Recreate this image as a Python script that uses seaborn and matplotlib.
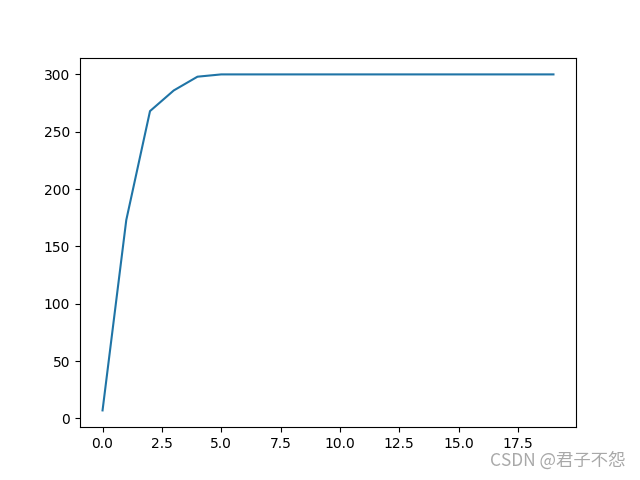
import numpy as np
import pandas as pd
import matplotlib
matplotlib.use("Agg")
import matplotlib.pyplot as plt
import seaborn as sns

# values
steps = list(range(20))
values = [7, 173, 268, 286, 298] + [300] * 15

df = pd.DataFrame({"step": steps, "value": values})

fig, ax = plt.subplots(figsize=(6.4, 4.8), dpi=100)
sns.lineplot(data=df, x="step", y="value", ax=ax, color="#1f74a6")
ax.set_xlabel("")
ax.set_ylabel("")

# watermark
fig.text(0.977, 0.022, "CSDN @君子不怨", ha="right", va="bottom", fontsize=12.5,
         color="#a8a8a8", family=["Noto Sans CJK SC", "DejaVu Sans"])

plt.savefig("out.png", dpi=100)
